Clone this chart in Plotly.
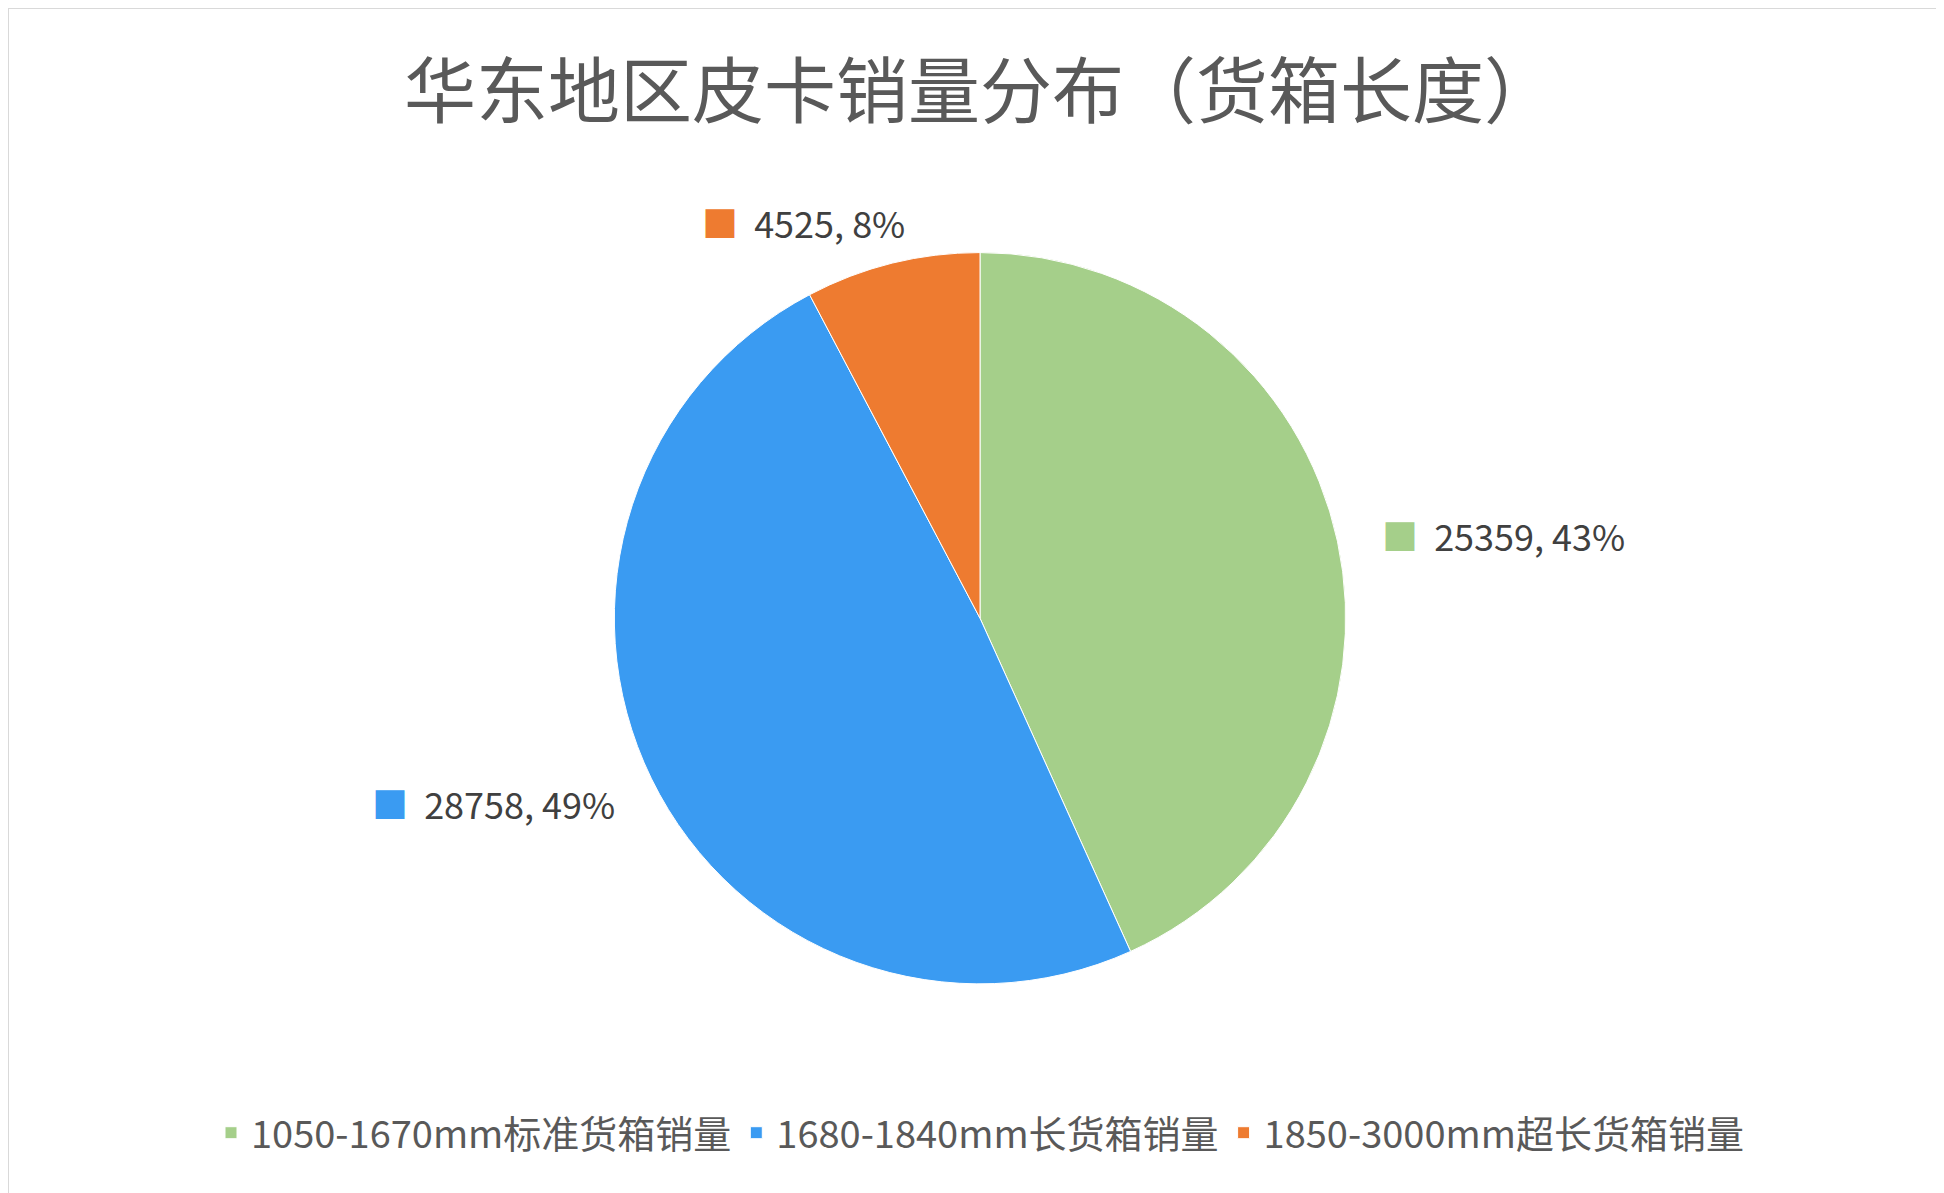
import plotly.graph_objects as go

categories = ["1050-1670mm标准货箱销量", "1680-1840mm长货箱销量", "1850-3000mm超长货箱销量"]
values = [25359, 28758, 4525]
colors = ["#a5cf8a", "#3a9bf2", "#ee7b30"]
title = "华东地区皮卡销量分布（货箱长度）"

total = sum(values)
label_pos = [(0.706, 0.558), (0.186, 0.334), (0.356, 0.821)]

fig = go.Figure(go.Pie(
    labels=categories, values=values, sort=False, direction="clockwise", rotation=0,
    marker=dict(colors=colors, line=dict(color="white", width=1)),
    textinfo="none", hoverinfo="label+value+percent",
    domain=dict(x=[0, 1], y=[0.182, 0.795]),
))

ann = []
for v, c, (x, y) in zip(values, colors, label_pos):
    ann.append(dict(x=x, y=y, xref="paper", yref="paper", xanchor="left", yanchor="middle",
                    showarrow=False,
                    text=f"<span style='color:{c}'>■</span>  {v}, {round(v/total*100)}%",
                    font=dict(size=36, color="#404040", family="Noto Sans CJK SC")))

fig.update_layout(
    width=1944, height=1193, paper_bgcolor="white", plot_bgcolor="white",
    margin=dict(l=0, r=0, t=0, b=0),
    title=dict(text=title, x=0.5, xanchor="center", y=0.93, yanchor="middle",
               font=dict(size=72, color="#595959", family="Noto Sans CJK SC")),
    legend=dict(orientation="h", x=0.5, xanchor="center", y=0.057, yanchor="middle",
                font=dict(size=38, color="#595959", family="Noto Sans CJK SC"),
                itemwidth=30),
    annotations=ann,
    shapes=[dict(type="rect", xref="paper", yref="paper", x0=0, y0=0, x1=1, y1=1,
                 line=dict(color="#d9d9d9", width=2))],
)
fig.write_html("out.html")
